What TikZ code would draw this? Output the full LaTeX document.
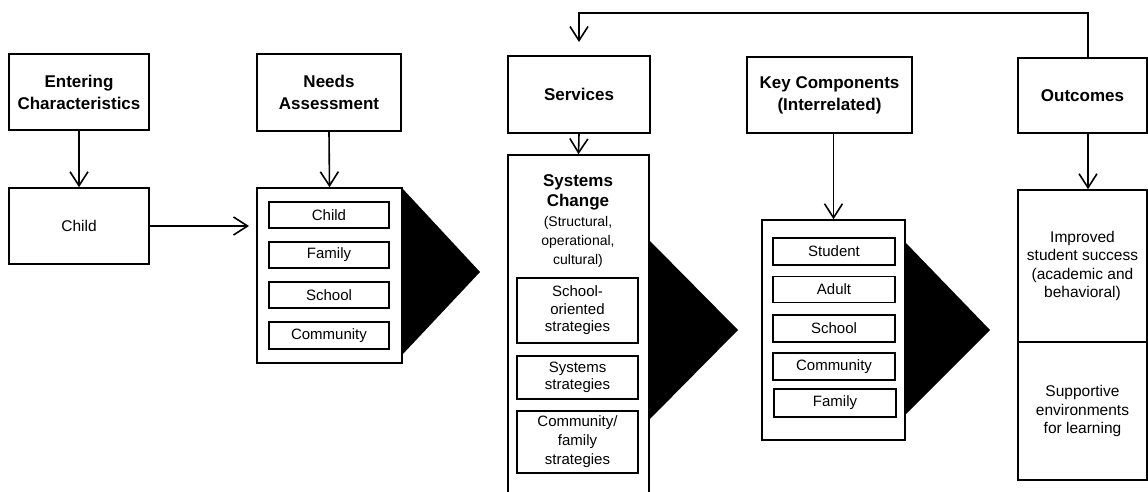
\documentclass[tikz,border=0pt]{standalone}
\usepackage{fontspec}
\setmainfont{Liberation Sans}
\usetikzlibrary{arrows.meta}

\begin{document}
\begin{tikzpicture}[x=1pt,y=-1pt,
  box/.style={draw, line width=1.6pt, inner sep=0pt, align=center, fill=white},
  item/.style={draw, line width=1.4pt, inner sep=0pt, align=center,
    font=\fontsize{15}{18}\selectfont},
  head/.style={font=\fontsize{17}{22}\selectfont\bfseries},
  body/.style={font=\fontsize{15.5}{18.5}\selectfont},
  small/.style={font=\fontsize{14}{19}\selectfont, align=center},
  conn/.style={line width=1.6pt, -{Straight Barb[length=14pt,width=18pt,line width=1.6pt]}},
  wedge/.style={fill=black, draw=none}]
\useasboundingbox (0,0) rectangle (1148,492);
\clip (0,0) rectangle (1148,492);

% column 1: entering characteristics
\node[box, head, minimum width=140pt, minimum height=76pt] (ent) at (79,92) {Entering\\Characteristics};
\node[box, body, minimum width=140pt, minimum height=76pt] (child) at (79,226) {Child};

% column 2: needs assessment
\node[box, head, minimum width=144pt, minimum height=77pt] (needs) at (329,92.5) {Needs\\Assessment};
\node[box, minimum width=145pt, minimum height=175pt] (needslist) at (329.5,275.5) {};
\node[item, minimum width=120pt, minimum height=26pt] (nChild) at (329,215) {Child};
\node[item, minimum width=120pt, minimum height=26pt] (nFamily) at (329,255) {Family};
\node[item, minimum width=120pt, minimum height=26pt] (nSchool) at (329,295) {School};
\node[item, minimum width=120pt, minimum height=27pt] (nCommunity) at (329,335.5) {Community};
\fill[wedge] (402,188) -- (480,272) -- (402,355) -- cycle;

% column 3: services
\node[box, head, minimum width=142pt, minimum height=77pt] (services) at (579,94.5) {Services};
\node[box, minimum width=141pt, minimum height=360pt] (syschange) at (578.5,335) {};
\node[head, align=center, font=\fontsize{17}{20}\selectfont\bfseries] (scTitle) at (578,192) {Systems\\Change};
\node[small] (scSub) at (578,242) {(Structural,\\operational,\\cultural)};
\node[item, minimum width=121pt, minimum height=65pt, font=\fontsize{15}{17.5}\selectfont] (sSchool) at (577.5,310.5) {School-\\oriented\\strategies};
\node[item, minimum width=121pt, minimum height=43pt, font=\fontsize{15}{17.5}\selectfont] (sSystems) at (577.5,377.5) {Systems\\strategies};
\node[item, minimum width=121pt, minimum height=62pt, font=\fontsize{15}{19}\selectfont] (sCommunity) at (577.5,442) {Community/\\family\\strategies};
\fill[wedge] (649,240) -- (738,330) -- (649,420) -- cycle;

% column 4: key components
\node[box, head, minimum width=165pt, minimum height=76pt] (key) at (829.5,95) {Key Components\\(Interrelated)};
\node[box, minimum width=143pt, minimum height=220pt] (keylist) at (833.5,330) {};
\node[item, minimum width=122pt, minimum height=27pt] (kStudent) at (834,251.5) {Student};
\node[item, minimum width=122pt, minimum height=26pt] (kAdult) at (834,289.5) {Adult};
\node[item, minimum width=122pt, minimum height=27pt] (kSchool) at (834,328.5) {School};
\node[item, minimum width=122pt, minimum height=27pt] (kCommunity) at (834,366.5) {Community};
\node[item, minimum width=122pt, minimum height=28pt] (kFamily) at (835,403) {Family};
\fill[wedge] (905,242) -- (990,330) -- (905,415) -- cycle;

% column 5: outcomes
\node[box, head, minimum width=129pt, minimum height=75pt] (outcomes) at (1082.5,95.5) {Outcomes};
\node[box, body, minimum width=129pt, minimum height=152pt] (outA) at (1082.5,266) {Improved\\student success\\(academic and\\behavioral)};
\node[box, body, minimum width=129pt, minimum height=138pt] (outB) at (1082.5,411) {Supportive\\environments\\for learning};

% connectors
\coordinate (childIn) at (249,226);
\coordinate (fbTurnR) at (1088,13);
\coordinate (fbTurnL) at (579,13);
\coordinate (fbEnd) at (579,42);
\draw[conn] (ent.south) -- (child.north);
\draw[conn] (child.east) -- (childIn);
\draw[conn] (needs.south) -- (needslist.north);
\draw[conn] (services.south) -- (syschange.north);
\draw[conn] (key.south -| keylist.north) -- (keylist.north);
\draw[conn] (outcomes.south -| fbTurnR) -- (outA.north -| fbTurnR);
\draw[conn] (outcomes.north -| fbTurnR) -- (fbTurnR) -- (fbTurnL) -- (fbEnd);
\end{tikzpicture}
\end{document}
